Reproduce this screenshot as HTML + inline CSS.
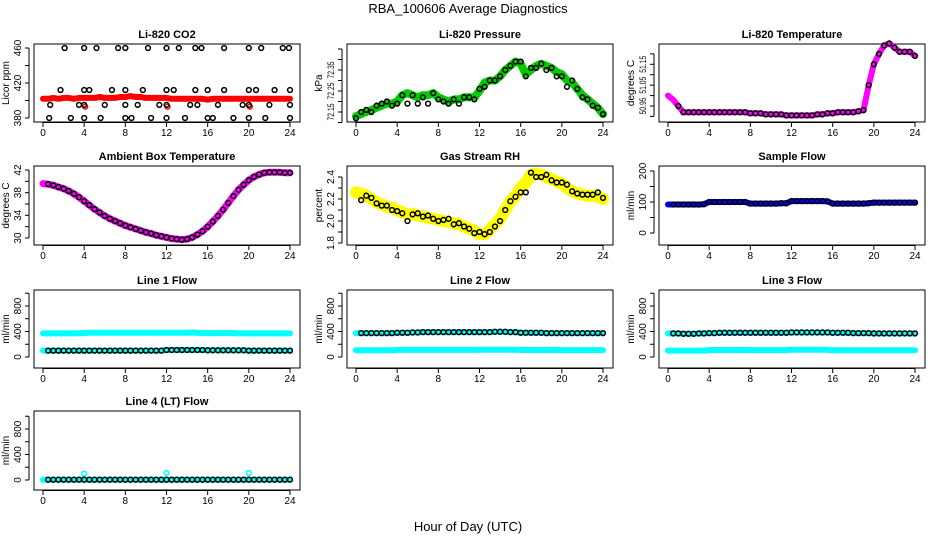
<!DOCTYPE html>
<html><head><meta charset="utf-8">
<style>
html,body{margin:0;padding:0;background:#fff;}
svg{display:block;font-family:"Liberation Sans",sans-serif;}
</style></head>
<body>
<svg id="chart" width="936" height="540" viewBox="0 0 936 540">
<text x="468" y="13" text-anchor="middle" font-size="13">RBA_100606  Average Diagnostics</text>
<text x="468" y="531" text-anchor="middle" font-size="13">Hour of Day (UTC)</text>
</svg>
<script>
// ---- data (hourly grid 0..24 step 0.5) ----
const hours = [0,0.5,1,1.5,2,2.5,3,3.5,4,4.5,5,5.5,6,6.5,7,7.5,8,8.5,9,9.5,10,10.5,11,11.5,12,12.5,13,13.5,14,14.5,15,15.5,16,16.5,17,17.5,18,18.5,19,19.5,20,20.5,21,21.5,22,22.5,23,23.5,24];
const xTicks = [0,4,8,12,16,20,24];

const co2Red = [402,402,403,402,403,403,402,403,403,403,403,404,403,403,403,404,404,405,404,404,403,403,403,403,403,402,402,402,402,402,402,402,401,402,402,402,402,402,402,402,402,402,402,402,402,402,402,402,402];
const co2OutH = [2.1,4,5.2,7.3,8,10.2,12,13.2,14.8,15.4,17.6,20,21.2,23.3,23.9, 1.7,4,4.5,6.7,8,9.7,12,12.7,14.8,16,17.6,20,20.7,22.5,24, 0.7,3.5,4,6,8,9.2,11.3,12,14.3,15,17,19.4,20,22,24, 0.6,2.7,4,5.6,8,8.6,10.5,12,13.8,16,16.5,18.5,20,21.6,24];
const co2OutV = [460,460,460,460,460,460,460,460,460,460,460,460,460,460,460, 412,412,412,412,412,412,412,412,412,412,412,412,412,412,412, 395,395,395,395,395,395,395,395,395,395,395,395,395,395,395, 380,380,380,380,380,380,380,380,380,380,380,380,380,380,380];
const co2RedOutH = [4.1,12.1,20.1];
const co2RedOutV = [393,393,393];

const presGreen = [72.13,72.14,72.15,72.16,72.17,72.18,72.19,72.19,72.20,72.23,72.24,72.23,72.22,72.23,72.23,72.24,72.22,72.21,72.20,72.21,72.21,72.22,72.22,72.22,72.25,72.29,72.30,72.30,72.32,72.35,72.37,72.39,72.38,72.33,72.35,72.37,72.38,72.37,72.36,72.34,72.33,72.30,72.29,72.26,72.23,72.21,72.19,72.17,72.14];
const presBlack = [72.12,72.15,72.16,72.15,72.18,72.19,72.20,72.18,72.19,72.23,72.19,72.23,72.19,72.22,72.19,72.24,72.21,72.20,72.19,72.21,72.19,72.22,72.22,72.21,72.26,72.27,72.30,72.30,72.32,72.35,72.37,72.39,72.39,72.32,72.36,72.36,72.38,72.35,72.36,72.32,72.32,72.27,72.30,72.26,72.22,72.21,72.18,72.17,72.14];

const tempMag = [51.00,50.98,50.95,50.92,50.92,50.92,50.92,50.92,50.92,50.92,50.92,50.92,50.92,50.92,50.92,50.92,50.915,50.915,50.915,50.91,50.91,50.91,50.91,50.905,50.905,50.905,50.905,50.905,50.905,50.91,50.91,50.915,50.915,50.92,50.92,50.92,50.92,50.925,50.93,51.05,51.15,51.20,51.24,51.25,51.23,51.21,51.21,51.21,51.19];

const ambMag = [39.6,39.5,39.3,39.0,38.7,38.3,37.8,37.2,36.5,35.8,35.1,34.5,33.9,33.4,33.0,32.6,32.2,31.9,31.6,31.3,31.0,30.8,30.5,30.3,30.1,29.9,29.8,29.7,29.8,30.1,30.6,31.2,32.0,32.9,33.9,35.0,36.2,37.4,38.5,39.4,40.2,40.8,41.2,41.5,41.6,41.6,41.6,41.5,41.5];

const rhYellow = [2.26,2.25,2.23,2.20,2.17,2.15,2.13,2.12,2.10,2.08,2.06,2.06,2.05,2.04,2.03,2.02,2.01,2.00,1.99,1.98,1.97,1.95,1.93,1.91,1.88,1.88,1.92,1.97,2.02,2.10,2.18,2.23,2.30,2.35,2.42,2.43,2.42,2.40,2.38,2.36,2.34,2.30,2.27,2.25,2.24,2.23,2.23,2.22,2.20];
const rhBlack = [2.26,2.19,2.23,2.21,2.16,2.14,2.14,2.10,2.09,2.07,2.00,2.06,2.07,2.04,2.05,2.02,2.00,2.01,2.02,1.97,1.98,1.95,1.93,1.89,1.90,1.88,1.90,1.95,2.00,2.10,2.18,2.22,2.26,2.26,2.44,2.40,2.40,2.42,2.37,2.35,2.35,2.33,2.27,2.25,2.24,2.24,2.24,2.26,2.21];

const sampleBlue = [92,92,92,92,92,92,92,93,100,100,100,100,100,100,100,100,95,95,95,95,95,95,96,96,103,103,103,103,103,103,103,102,95,95,95,95,95,95,95,96,98,98,98,98,98,98,98,98,98];

const line1High = [370,370,370,370,370,370,370,372,375,380,380,380,380,380,380,380,380,380,380,380,380,380,380,380,380,380,380,380,380,385,380,375,375,375,375,375,375,375,370,370,370,370,370,370,370,370,370,370,370];
const line1Low = [100,100,100,100,100,100,100,100,100,100,100,100,100,100,100,100,100,100,100,100,100,100,100,100,110,110,110,110,110,110,110,110,105,105,105,105,105,105,105,105,100,100,100,100,100,100,100,100,100];

const line2High = [375,375,375,375,375,375,375,375,380,380,380,385,385,390,390,390,390,390,390,390,390,390,390,390,390,390,390,395,395,395,390,390,380,380,380,380,380,375,375,375,375,375,375,375,375,375,375,375,375];
const line2Low = [105,105,105,105,105,105,105,105,112,112,112,112,112,112,112,112,112,112,112,112,112,112,112,112,115,115,115,115,115,115,115,115,110,110,110,110,110,110,110,110,108,108,108,108,108,108,108,108,108];

const line3High = [370,370,370,365,365,365,370,370,375,375,380,380,380,380,380,380,380,380,380,380,380,380,380,380,385,385,385,385,385,385,385,385,380,380,380,380,375,375,375,375,370,370,370,370,370,370,370,370,370];
const line3Low = [100,100,100,100,100,100,100,100,110,110,110,110,110,110,110,110,108,108,108,108,108,108,108,108,115,115,115,115,115,115,115,115,105,105,105,105,105,105,105,105,105,105,105,105,105,105,105,105,105];

const line4Flow = [5,5,5,5,5,5,5,5,5,5,5,5,5,5,5,5,5,5,5,5,5,5,5,5,5,5,5,5,5,5,5,5,5,5,5,5,5,5,5,5,5,5,5,5,5,5,5,5,5];
const line4OutH = [4,12,20];
const line4OutV = [100,110,110];

// ---- layout ----
const NS = "http://www.w3.org/2000/svg";
const svg = document.getElementById('chart');
const colX = [34, 347, 659];
const rowY = [[44,122],[166,245],[290,368],[411,490]];
const BW = 266;

function mk(tag, attrs, parent){
  const e = document.createElementNS(NS, tag);
  for (const k in attrs) e.setAttribute(k, attrs[k]);
  (parent||svg).appendChild(e);
  return e;
}

function panel(col, row, title, ylab, v1, p1, v2, p2, yTicks, yLabels, fmt, slug){
  const bx = colX[col], by0 = rowY[row][0], by1 = rowY[row][1];
  const g = mk('g', {});
  
  
  const xs = h => bx + 9 + h * (247/24);
  const ys = v => p1 + (v - v1) * (p2 - p1) / (v2 - v1);
  const t = mk('text', {x: bx + BW/2, y: by0 - 6, 'text-anchor':'middle', 'font-size':11, 'font-weight':'bold'}, g);
  t.textContent = title;
  
  
  const box = mk('rect', {x: bx, y: by0, width: BW, height: by1 - by0, fill:'none', stroke:'#000', 'stroke-width':1}, g);
  
  
  const xa = mk('g', {}, g);
  
  
  mk('line', {x1: xs(0), x2: xs(24), y1: by1 + 0.5, y2: by1 + 0.5, stroke:'#000'}, xa);
  xTicks.forEach(h => {
    mk('line', {x1: xs(h), x2: xs(h), y1: by1, y2: by1 + 5, stroke:'#000'}, xa);
    const l = mk('text', {x: xs(h), y: by1 + 14, 'text-anchor':'middle', 'font-size':10}, xa);
    l.textContent = h;
  });
  const ya = mk('g', {}, g);
  
  
  mk('line', {x1: bx - 5, x2: bx - 5, y1: ys(yTicks[0]), y2: ys(yTicks[yTicks.length-1]), stroke:'#000'}, ya);
  yTicks.forEach(v => {
    mk('line', {x1: bx - 9, x2: bx - 5, y1: ys(v), y2: ys(v), stroke:'#000'}, ya);
  });
  yLabels.forEach(v => {
    const yy = ys(v);
    const s = fmt(v);
    const attrs = {x: bx - 13, y: yy, 'text-anchor':'middle', 'font-size':10, transform:`rotate(-90 ${bx-13} ${yy})`};
    if (String(s).length >= 5) { attrs.textLength = 17; attrs.lengthAdjust = 'spacingAndGlyphs'; attrs['font-size'] = 9; }
    const l = mk('text', attrs, ya);
    l.textContent = s;
  });
  const yt = mk('text', {x: bx - 25, y: (by0 + by1)/2, 'text-anchor':'middle', 'font-size':10, transform:`rotate(-90 ${bx-25} ${(by0+by1)/2})`}, g);
  yt.textContent = ylab;
  
  
  return {g, xs, ys};
}

function band(p, hs, vs, color, name, w){
  const pts = hs.map((h,i) => p.xs(h).toFixed(1) + ',' + p.ys(vs[i]).toFixed(1)).join(' ');
  const pl = mk('polyline', {points: pts, fill:'none', stroke: color, 'stroke-width': w||7, 'stroke-linejoin':'round', 'stroke-linecap':'round'}, p.g);
  
  
}
function circles(p, hs, vs, color, name, r){
  const g = mk('g', {}, p.g);
  
  
  hs.forEach((h,i) => {
    if (vs[i] === null) return;
    mk('circle', {cx: p.xs(h), cy: p.ys(vs[i]), r: r||2.4, fill:'none', stroke: color, 'stroke-width':1.5}, g);
  });
}
const blackHours = hours.slice(1);

let p = panel(0,0,'Li-820 CO2','Licor ppm',380,118,460,48,[380,400,420,440,460],[380,420,460],v=>v,'co2');
band(p, hours, co2Red, '#ff0000', 'co2-red-series', 6);
circles(p, co2RedOutH, co2RedOutV, '#ff0000', 'co2-red-outliers');
circles(p, co2OutH, co2OutV, '#000', 'co2-black-points');

p = panel(1,0,'Li-820 Pressure','kPa',72.15,112,72.35,70,[72.10,72.15,72.20,72.25,72.30,72.35,72.40,72.45],[72.15,72.25,72.35],v=>v.toFixed(2),'pressure');
band(p, hours, presGreen, '#00cc00', 'pressure-green-series', 8);
circles(p, hours, presBlack, '#000', 'pressure-black-points');

p = panel(2,0,'Li-820 Temperature','degrees C',50.95,106,51.15,64.3,[50.90,50.95,51.00,51.05,51.10,51.15,51.20],[50.95,51.05,51.15],v=>v.toFixed(2),'li820-temp');
band(p, hours, tempMag, '#ff00ff', 'li820-temp-magenta-series', 6);
circles(p, hours.slice(2), tempMag.slice(2), '#000', 'li820-temp-black-points');

p = panel(0,1,'Ambient Box Temperature','degrees C',30,238,42,170,[30,32,34,36,38,40,42],[30,34,38,42],v=>v,'ambient');
band(p, hours, ambMag, '#ff00ff', 'ambient-magenta-series', 7);
circles(p, blackHours, ambMag.slice(1), '#000', 'ambient-black-points');

p = panel(1,1,'Gas Stream RH','percent',1.8,243,2.4,177,[1.8,1.9,2.0,2.1,2.2,2.3,2.4],[1.8,2.0,2.2,2.4],v=>v.toFixed(1),'rh');
band(p, hours, rhYellow, '#ffff00', 'rh-yellow-series', 12);
circles(p, hours.slice(1), rhBlack.slice(1), '#000', 'rh-black-points');

p = panel(2,1,'Sample Flow','ml/min',0,233,200,171,[0,50,100,150,200],[0,100,200],v=>v,'sample-flow');
band(p, hours, sampleBlue, '#0000ff', 'sample-flow-blue-series', 6);
circles(p, blackHours, sampleBlue.slice(1), '#000', 'sample-flow-black-points');

const flowTicks = [0,200,400,600,800,1000];
const flowLabels = [0,400,800];
p = panel(0,2,'Line 1 Flow','ml/min',0,357,800,306,flowTicks,flowLabels,v=>v,'line1-flow');
band(p, hours, line1High, '#00ffff', 'line1-cyan-high', 6);
band(p, hours, line1Low, '#00ffff', 'line1-cyan-low', 6);
circles(p, blackHours, line1Low.slice(1), '#000', 'line1-black-points');
p = panel(1,2,'Line 2 Flow','ml/min',0,357,800,306,flowTicks,flowLabels,v=>v,'line2-flow');
band(p, hours, line2High, '#00ffff', 'line2-cyan-high', 6);
band(p, hours, line2Low, '#00ffff', 'line2-cyan-low', 6);
circles(p, blackHours, line2High.slice(1), '#000', 'line2-black-points');
p = panel(2,2,'Line 3 Flow','ml/min',0,357,800,306,flowTicks,flowLabels,v=>v,'line3-flow');
band(p, hours, line3High, '#00ffff', 'line3-cyan-high', 6);
band(p, hours, line3Low, '#00ffff', 'line3-cyan-low', 6);
circles(p, blackHours, line3High.slice(1), '#000', 'line3-black-points');
p = panel(0,3,'Line 4 (LT) Flow','ml/min',0,480,800,429,flowTicks,flowLabels,v=>v,'line4-flow');
band(p, hours, line4Flow, '#00ffff', 'line4-cyan-series', 6);
circles(p, line4OutH, line4OutV, '#00ffff', 'line4-cyan-outliers');
circles(p, blackHours, line4Flow.slice(1), '#000', 'line4-black-points');
</script>
</body></html>
